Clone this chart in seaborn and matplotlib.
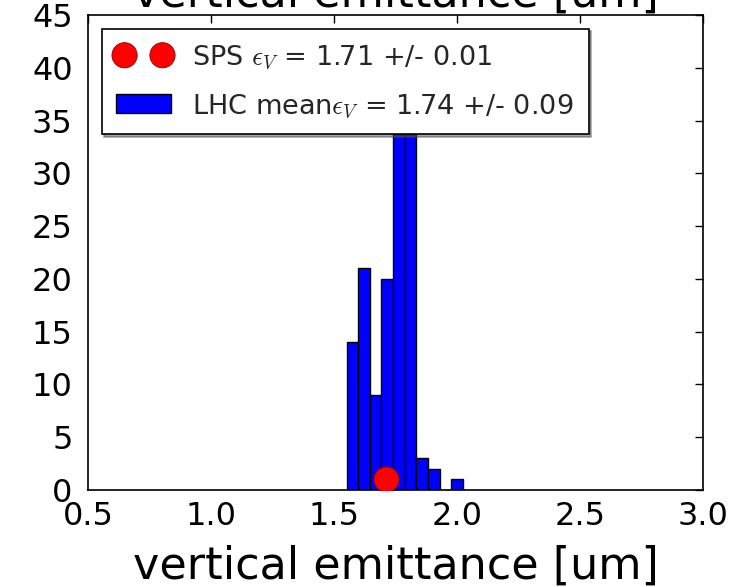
import numpy as np
import pandas as pd
import matplotlib
matplotlib.use("Agg")
import matplotlib.pyplot as plt
import seaborn as sns

# ---- data ----
bin_edges = [1.552, 1.599, 1.646, 1.693, 1.740, 1.787, 1.835, 1.882, 1.929, 1.976, 2.023]
lhc_counts = [14, 21, 9, 20, 36, 41, 3, 2, 0, 1]
sps_x = [1.71]
sps_y = [1]
x_ticks = [0.5, 1.0, 1.5, 2.0, 2.5, 3.0]
y_ticks = [0, 5, 10, 15, 20, 25, 30, 35, 40, 45]
sps_label = r"SPS $\epsilon_V$ = 1.71 +/- 0.01"
lhc_label = r"LHC mean$\epsilon_V$ = 1.74 +/- 0.09"
title = "vertical emittance [um]"
xlabel = "vertical emittance [um]"

sns.set_style("white")
plt.rcParams["font.family"] = ["DejaVu Sans"]
plt.rcParams["mathtext.fontset"] = "cm"

fig = plt.figure(figsize=(7.39, 5.87), dpi=100)
ax = fig.add_axes([88 / 739, 1 - 490 / 587, (703 - 88) / 739, (490 - 15) / 587])

edges = np.array(bin_edges)
hist_df = pd.DataFrame({"emit": (edges[:-1] + edges[1:]) / 2, "count": lhc_counts})
sns.histplot(data=hist_df, x="emit", weights="count", bins=list(bin_edges), ax=ax,
             color=(0, 0, 1), alpha=1.0, edgecolor="black", linewidth=1.0)
bar_handle = ax.patches[0]

sps_df = pd.DataFrame({"x": sps_x, "y": sps_y})
sns.scatterplot(data=sps_df, x="x", y="y", ax=ax, s=330, color="red",
                edgecolor="#8b0000", linewidth=0.6, zorder=5)
pt_handle = ax.collections[-1]

ax.set_xlim(0.5, 3.0)
ax.set_ylim(0, 45)
ax.set_xticks(x_ticks)
ax.set_yticks(y_ticks)
ax.set_xticklabels([f"{v:.1f}" for v in x_ticks])
ax.set_yticklabels([str(v) for v in y_ticks])
ax.tick_params(axis="both", direction="in", top=True, right=True,
               length=6, width=1, color="black", labelsize=23, labelcolor="black")
ax.tick_params(axis="x", pad=8)
ax.tick_params(axis="y", pad=11)
for s in ax.spines.values():
    s.set_color("black")
    s.set_linewidth(1.2)

ax.set_xlabel(xlabel, fontsize=32, color="black", labelpad=9)
ax.set_ylabel("")
ax.set_title(title, fontsize=32, color="black")

leg = ax.legend([pt_handle, bar_handle], [sps_label, lhc_label], loc="upper left",
                fontsize=19.5, scatterpoints=2, scatteryoffsets=[0.5],
                fancybox=False, shadow=True, framealpha=1, edgecolor="black",
                borderaxespad=0.5, labelspacing=0.75, borderpad=0.55)
leg.get_frame().set_linewidth(1.2)
leg.set_zorder(10)

fig.savefig("out.png", dpi=100)
